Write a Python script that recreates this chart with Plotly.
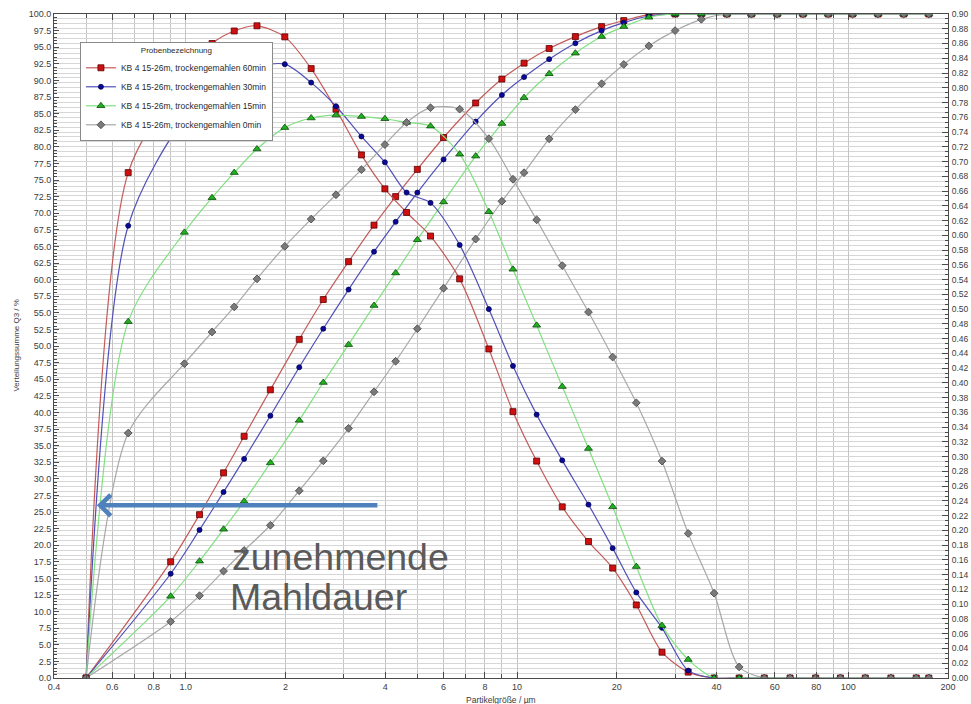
import plotly.graph_objects as go

# Class boundaries (µm) for the cumulative distribution Q3
x_bounds = [0.5, 0.9, 1.1, 1.3, 1.5, 1.8, 2.2, 2.6, 3.1, 3.7, 4.3, 5.0, 6.0, 7.5, 9.0,
            10.5, 12.5, 15, 18, 21, 25, 30, 36, 43, 51, 61, 73, 87, 103, 123, 147, 175]

# Class centres (µm) for the density distribution q3lg, with the range ends
x_mid = [0.5, 0.67, 0.99, 1.2, 1.4, 1.64, 1.99, 2.39, 2.84, 3.39, 3.99, 4.64, 5.48, 6.71,
         8.22, 9.72, 11.46, 13.69, 16.43, 19.44, 22.91, 27.39, 32.86, 39.34, 46.83,
         55.78, 66.72, 79.69, 94.66, 112.55, 134.47, 160.4, 175]

# Cumulative distribution Q3 / %
q3_cum_60 = [0, 17.5, 24.6, 30.9, 36.4, 43.4, 51.0, 57.0, 62.7, 68.2, 72.5, 76.6, 81.4, 86.6,
             90.2, 92.6, 94.8, 96.6, 98.1, 99.0, 99.9, 100, 100, 100, 100, 100, 100, 100,
             100, 100, 100, 100]
q3_cum_30 = [0, 15.7, 22.3, 28.0, 33.0, 39.5, 46.8, 52.6, 58.5, 64.2, 68.7, 73.1, 78.1, 83.8,
             87.8, 90.5, 93.2, 95.6, 97.5, 98.7, 99.7, 100, 100, 100, 100, 100, 100, 100,
             100, 100, 100, 100]
q3_cum_15 = [0, 12.3, 17.6, 22.4, 26.6, 32.4, 38.8, 44.5, 50.2, 56.1, 61.0, 66.0, 71.7, 78.6,
             83.5, 87.4, 91.0, 94.1, 96.6, 98.1, 99.5, 100, 100, 100, 100, 100, 100, 100,
             100, 100, 100, 100]
q3_cum_0 = [0, 8.5, 12.4, 16.1, 19.2, 23.0, 28.2, 32.7, 37.6, 43.1, 47.7, 52.6, 58.7, 66.1,
            71.8, 76.1, 81.2, 85.6, 89.5, 92.4, 95.2, 97.5, 99.2, 100, 100, 100, 100, 100,
            100, 100, 100, 100]

# Density distribution q3lg (right axis)
q3_den_60 = [0, 0.685, 0.814, 0.860, 0.877, 0.884, 0.869, 0.826, 0.771, 0.709, 0.663, 0.631,
             0.599, 0.541, 0.446, 0.361, 0.294, 0.232, 0.185, 0.149, 0.099, 0.035, 0.008,
             0, 0, 0, 0, 0, 0, 0, 0, 0, 0]
q3_den_30 = [0, 0.613, 0.757, 0.785, 0.805, 0.828, 0.832, 0.807, 0.775, 0.734, 0.699, 0.658,
             0.644, 0.587, 0.500, 0.423, 0.357, 0.295, 0.235, 0.176, 0.116, 0.068, 0.010,
             0, 0, 0, 0, 0, 0, 0, 0, 0, 0]
q3_den_15 = [0, 0.483, 0.604, 0.651, 0.685, 0.717, 0.746, 0.759, 0.763, 0.761, 0.758, 0.753,
             0.748, 0.710, 0.632, 0.554, 0.478, 0.395, 0.311, 0.232, 0.151, 0.071, 0.025,
             0, 0, 0, 0, 0, 0, 0, 0, 0, 0]
q3_den_0 = [0, 0.332, 0.426, 0.469, 0.503, 0.541, 0.585, 0.622, 0.655, 0.689, 0.723, 0.753,
            0.773, 0.771, 0.731, 0.676, 0.621, 0.559, 0.496, 0.435, 0.373, 0.294, 0.196,
            0.115, 0.015, 0, 0, 0, 0, 0, 0, 0, 0]

series_names = ["KB 4 15-26m, trockengemahlen 60min",
                "KB 4 15-26m, trockengemahlen 30min",
                "KB 4 15-26m, trockengemahlen 15min",
                "KB 4 15-26m, trockengemahlen 0min"]

x_major = [0.4, 0.6, 0.8, 1, 2, 4, 6, 8, 10, 20, 40, 60, 80, 100, 200]
x_major_text = ["0.4", "0.6", "0.8", "1.0", "2", "4", "6", "8", "10", "20", "40", "60",
                "80", "100", "200"]
x_minor = [0.5, 0.7, 0.9, 3, 5, 7, 9, 30, 50, 70, 90]

styles = [
    dict(line="#c45a5a", fill="#d01010", edge="#5a0000", symbol="square", size=6),
    dict(line="#5050b8", fill="#0a0a9a", edge="#000050", symbol="circle", size=5),
    dict(line="#7fe07f", fill="#20b020", edge="#0a4a0a", symbol="triangle-up", size=7),
    dict(line="#a8a8a8", fill="#7a7a7a", edge="#404040", symbol="diamond", size=6),
]

cum_sets = [q3_cum_60, q3_cum_30, q3_cum_15, q3_cum_0]
den_sets = [q3_den_60, q3_den_30, q3_den_15, q3_den_0]

FONT = "Liberation Sans, Arial, sans-serif"

fig = go.Figure()

for name, st, cum, den in zip(series_names, styles, cum_sets, den_sets):
    marker = dict(symbol=st["symbol"], size=st["size"], color=st["fill"],
                  line=dict(color=st["edge"], width=0.8))
    fig.add_trace(go.Scatter(
        x=x_bounds, y=cum, name=name, legendgroup=name, mode="lines+markers",
        line=dict(color=st["line"], width=1.2, shape="spline", smoothing=0.8),
        marker=marker, yaxis="y"))
    fig.add_trace(go.Scatter(
        x=x_mid, y=den, name=name, legendgroup=name, showlegend=False,
        mode="lines+markers",
        line=dict(color=st["line"], width=1.2, shape="spline", smoothing=0.8),
        marker=marker, yaxis="y2"))

axis_line = "#4a4a4a"
tick_font = dict(family=FONT, size=9, color="#3c3c3c")

fig.update_layout(
    width=971, height=704,
    margin=dict(l=54, r=23, t=14, b=26, autoexpand=False),
    paper_bgcolor="white", plot_bgcolor="white",
    font=dict(family=FONT, size=9, color="#3c3c3c"),
    xaxis=dict(
        type="log", range=[-0.39794, 2.30103], automargin=False,
        tickmode="array", tickvals=x_major, ticktext=x_major_text,
        ticks="inside", ticklen=6, tickcolor=axis_line, tickfont=tick_font,
        showgrid=True, gridcolor="#c4c4c4", gridwidth=1,
        minor=dict(tickmode="array", tickvals=x_minor, ticks="inside", ticklen=4,
                   tickcolor=axis_line, showgrid=True, gridcolor="#c4c4c4"),
        showline=True, linecolor=axis_line, linewidth=1, mirror="ticks",
        zeroline=False,
    ),
    yaxis=dict(
        range=[0, 100], tickmode="linear", tick0=0, dtick=2.5, tickformat=".1f",
        automargin=False,
        ticks="inside", ticklen=5, tickcolor=axis_line, tickfont=tick_font,
        minor=dict(dtick=0.5, ticks="inside", ticklen=3, tickcolor=axis_line,
                   showgrid=False),
        showgrid=False, zeroline=False,
        showline=True, linecolor=axis_line, linewidth=1,
    ),
    yaxis2=dict(
        range=[0, 0.9], overlaying="y", side="right", automargin=False,
        tickmode="linear", tick0=0, dtick=0.02, tickformat=".2f",
        ticks="inside", ticklen=6, tickcolor=axis_line,
        tickfont=dict(family=FONT, size=8.5, color="#3c3c3c"), ticklabelstandoff=1,
        showgrid=True, gridcolor="#d6d6d6", gridwidth=1,
        minor=dict(dtick=0.02 / 3, ticks="inside", ticklen=3, tickcolor=axis_line,
                   showgrid=True, gridcolor="#d6d6d6", gridwidth=1),
        zeroline=False, showline=True, linecolor=axis_line, linewidth=1,
    ),
    legend=dict(
        x=0.029, y=0.958, xanchor="left", yanchor="top",
        bgcolor="white", bordercolor="#8a8a8a", borderwidth=1,
        font=dict(family=FONT, size=8.5, color="#2a2a2a"),
        title=dict(text="Probenbezeichnung", side="top center",
                   font=dict(family=FONT, size=8, color="#2a2a2a")),
        itemwidth=30, tracegroupgap=0,
    ),
    showlegend=True,
    annotations=[
        dict(text="Verteilungssumme Q3 / %", xref="paper", yref="paper",
             x=-0.043, y=0.5, xanchor="center", yanchor="middle", textangle=-90,
             showarrow=False, font=dict(family=FONT, size=8, color="#3c3c3c")),
        dict(text="Partikelgröße / µm", xref="paper", yref="paper",
             x=0.5, y=0, xanchor="center", yanchor="top", yshift=-15,
             showarrow=False, font=dict(family=FONT, size=8.5, color="#3c3c3c")),
        dict(text="zunehmende", xref="paper", yref="paper",
             x=0.197, y=0.1822, xanchor="left", yanchor="middle", align="left",
             showarrow=False, font=dict(family=FONT, size=37.5, color="#5a5a5a")),
        dict(text="Mahldauer", xref="paper", yref="paper",
             x=0.195, y=0.1220, xanchor="left", yanchor="middle", align="left",
             showarrow=False, font=dict(family=FONT, size=37.5, color="#5a5a5a")),
        dict(text="", xref="paper", yref="y", x=0.048, y=26,
             ax=282, ay=0, axref="pixel", ayref="pixel",
             showarrow=True, arrowhead=4, arrowsize=0.9, arrowwidth=4.5,
             arrowcolor="#4f81bd"),
    ],
)

fig.write_html("out.html")
